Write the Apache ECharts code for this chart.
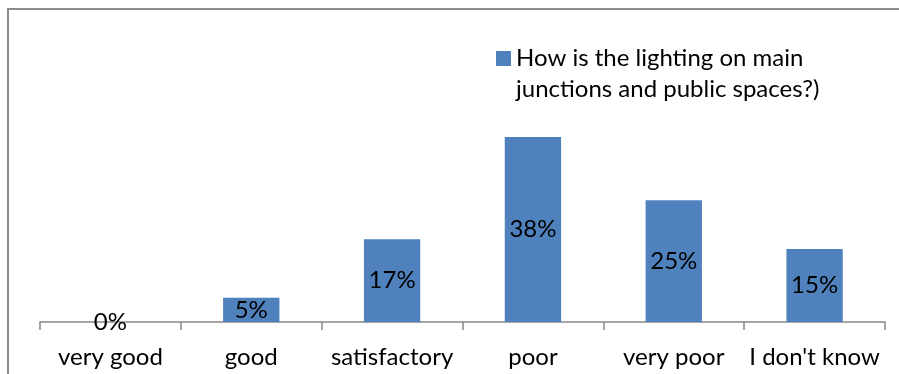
<!DOCTYPE html>
<html>
<head>
<meta charset="utf-8">
<script src="https://cdn.jsdelivr.net/npm/echarts@6/dist/echarts.min.js"></script>
<style>
html,body{margin:0;padding:0;background:#fff;overflow:hidden;}
#wrap{position:relative;width:899px;height:374px;}
#chart{position:absolute;left:0;top:0;width:899px;height:374px;}
#frame{position:absolute;left:7px;top:8px;width:1000px;height:1000px;border-left:2px solid #8c8c8c;border-top:2px solid #8c8c8c;pointer-events:none;}
</style>
</head>
<body>
<div id="wrap"><div id="chart"></div><div id="frame"></div></div>
<script>
const categories = ["very good", "good", "satisfactory", "poor", "very poor", "I don't know"];
const values = [0, 5, 17, 38, 25, 15];
const seriesName = "How is the lighting on main\njunctions and public spaces?)";

const chart = echarts.init(document.getElementById('chart'), null, {renderer: 'canvas'});
const font = 'Lato, "Noto Sans", sans-serif';
chart.setOption({
  animation: false,
  backgroundColor: 'transparent',
  grid: {left: 40, right: 14, top: 78.6, bottom: 52, containLabel: false},
  legend: {
    data: [seriesName],
    formatter: name => '\n' + name,
    left: 496,
    top: 12,
    padding: 0,
    itemWidth: 15,
    itemHeight: 15,
    itemGap: 6,
    icon: 'rect',
    textStyle: {fontFamily: font, fontSize: 24, color: '#000', lineHeight: 31}
  },
  xAxis: {
    type: 'category',
    data: categories,
    axisLine: {lineStyle: {color: '#888', width: 1.5}},
    axisTick: {show: true, length: 8, lineStyle: {color: '#888', width: 1.5}},
    axisLabel: {fontFamily: font, fontSize: 24, color: '#000', margin: 23, interval: 0}
  },
  yAxis: {
    type: 'value', min: 0, max: 50, show: false,
    splitLine: {show: false}
  },
  series: [{
    name: seriesName,
    type: 'bar',
    data: values,
    barWidth: '40%',
    itemStyle: {color: '#4F81BD'},
    label: {
      show: true, position: 'inside',
      formatter: p => p.value + '%',
      fontFamily: font, fontSize: 24, color: '#000'
    }
  }]
});
</script>
</body>
</html>
